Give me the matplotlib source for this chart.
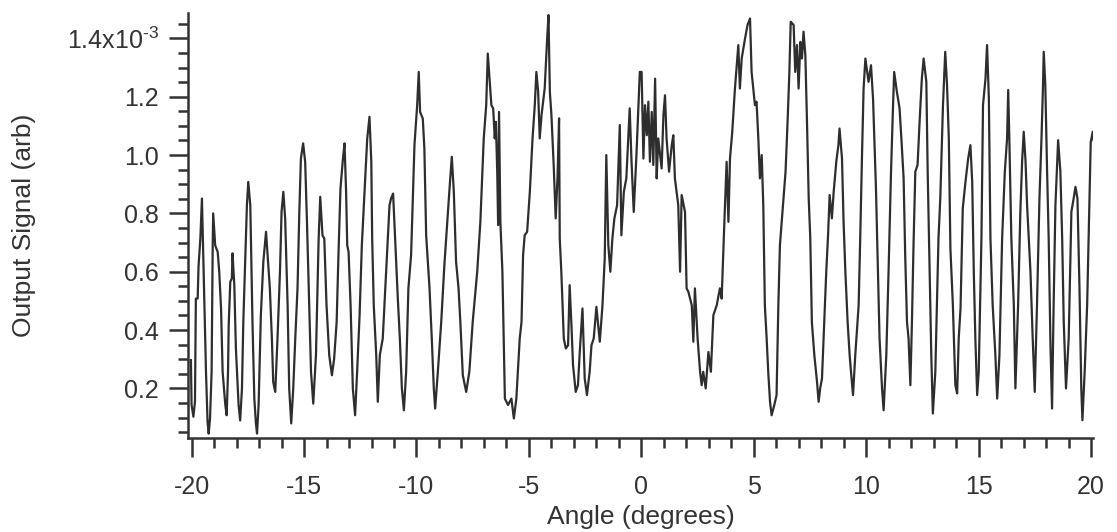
"""Output signal versus angle, redrawn from a scanned figure."""

import matplotlib

matplotlib.use("Agg")
import matplotlib.pyplot as plt
from matplotlib.ticker import FuncFormatter, MultipleLocator

# angle in degrees, signal in units of 1e-3 (arb)
angle_deg = [
    -20.03, -20.00, -19.92, -19.85, -19.81, -19.73, -19.69, -19.61, -19.54, -19.48,
    -19.44, -19.36, -19.29, -19.24, -19.18, -19.11, -19.06, -19.04, -18.95, -18.84,
    -18.77, -18.69, -18.62, -18.50, -18.44, -18.38, -18.35, -18.28, -18.21, -18.18,
    -18.10, -18.03, -17.91, -17.84, -17.76, -17.70, -17.61, -17.54, -17.48, -17.39,
    -17.29, -17.21, -17.14, -17.09, -17.02, -16.92, -16.81, -16.69, -16.62, -16.52,
    -16.43, -16.37, -16.28, -16.18, -16.07, -16.00, -15.92, -15.84, -15.73, -15.66,
    -15.57, -15.48, -15.39, -15.29, -15.21, -15.14, -15.04, -14.95, -14.87, -14.77,
    -14.69, -14.59, -14.47, -14.35, -14.28, -14.18, -14.10, -14.00, -13.88, -13.76,
    -13.66, -13.55, -13.47, -13.38, -13.27, -13.20, -13.13, -13.08, -13.02, -12.93,
    -12.83, -12.73, -12.64, -12.53, -12.43, -12.31, -12.19, -12.09, -12.01, -11.97,
    -11.90, -11.79, -11.72, -11.63, -11.50, -11.35, -11.20, -11.13, -11.04, -10.95,
    -10.83, -10.74, -10.65, -10.56, -10.46, -10.36, -10.24, -10.09, -9.97, -9.90,
    -9.84, -9.72, -9.65, -9.57, -9.42, -9.32, -9.23, -9.17, -9.05, -8.90,
    -8.76, -8.53, -8.43, -8.34, -8.24, -8.13, -8.05, -7.94, -7.79, -7.65,
    -7.50, -7.30, -7.16, -7.01, -6.90, -6.83, -6.67, -6.59, -6.52, -6.47,
    -6.41, -6.37, -6.33, -6.27, -6.18, -6.12, -6.07, -5.93, -5.78, -5.67,
    -5.56, -5.41, -5.33, -5.26, -5.19, -5.08, -4.96, -4.84, -4.74, -4.67,
    -4.59, -4.52, -4.44, -4.30, -4.19, -4.13, -4.07, -4.00, -3.90, -3.81,
    -3.73, -3.66, -3.63, -3.56, -3.45, -3.36, -3.26, -3.19, -3.11, -3.04,
    -2.92, -2.82, -2.74, -2.62, -2.52, -2.42, -2.30, -2.22, -2.12, -2.00,
    -1.85, -1.73, -1.63, -1.56, -1.47, -1.38, -1.29, -1.20, -1.08, -0.96,
    -0.89, -0.78, -0.67, -0.52, -0.44, -0.34, -0.22, -0.07, 0.01, 0.09,
    0.16, 0.24, 0.31, 0.38, 0.46, 0.53, 0.61, 0.68, 0.75, 0.90,
    0.98, 1.05, 1.12, 1.23, 1.35, 1.42, 1.49, 1.64, 1.72, 1.79,
    1.94, 2.01, 2.09, 2.24, 2.31, 2.38, 2.50, 2.61, 2.68, 2.75,
    2.86, 2.98, 3.09, 3.20, 3.35, 3.49, 3.57, 3.69, 3.79, 3.87,
    3.94, 4.04, 4.16, 4.31, 4.38, 4.46, 4.61, 4.72, 4.83, 4.90,
    5.05, 5.12, 5.20, 5.27, 5.35, 5.42, 5.49, 5.57, 5.64, 5.72,
    5.79, 5.91, 6.01, 6.09, 6.16, 6.31, 6.41, 6.50, 6.58, 6.64,
    6.77, 6.84, 6.92, 6.99, 7.07, 7.14, 7.21, 7.29, 7.36, 7.44,
    7.51, 7.58, 7.69, 7.81, 7.88, 7.95, 8.03, 8.10, 8.22, 8.30,
    8.37, 8.47, 8.55, 8.67, 8.76, 8.81, 8.92, 8.99, 9.07, 9.17,
    9.26, 9.32, 9.41, 9.51, 9.66, 9.73, 9.81, 9.88, 9.96, 10.10,
    10.21, 10.30, 10.36, 10.43, 10.52, 10.59, 10.70, 10.77, 10.89, 10.99,
    11.10, 11.19, 11.24, 11.36, 11.48, 11.56, 11.66, 11.73, 11.81, 11.88,
    11.96, 12.03, 12.10, 12.18, 12.28, 12.37, 12.47, 12.55, 12.67, 12.73,
    12.81, 12.89, 12.96, 13.07, 13.14, 13.21, 13.29, 13.41, 13.51, 13.59,
    13.67, 13.74, 13.85, 13.96, 14.04, 14.11, 14.19, 14.29, 14.41, 14.53,
    14.63, 14.71, 14.78, 14.85, 14.93, 15.00, 15.12, 15.19, 15.30, 15.37,
    15.45, 15.52, 15.62, 15.74, 15.82, 15.92, 16.04, 16.16, 16.26, 16.31,
    16.36, 16.45, 16.56, 16.63, 16.75, 16.85, 16.93, 17.00, 17.08, 17.15,
    17.30, 17.40, 17.49, 17.59, 17.70, 17.79, 17.85, 17.89, 17.96, 18.04,
    18.11, 18.19, 18.26, 18.33, 18.41, 18.53, 18.63, 18.71, 18.78, 18.88,
    19.00, 19.12, 19.22, 19.30, 19.39, 19.48, 19.56, 19.61, 19.71, 19.82,
    19.92, 19.98, 20.07, 20.11,
]
signal_milli = [
    0.297, 0.143, 0.103, 0.154, 0.508, 0.508, 0.620, 0.714, 0.851, 0.645,
    0.520, 0.257, 0.085, 0.045, 0.097, 0.257, 0.700, 0.800, 0.690, 0.668,
    0.600, 0.474, 0.257, 0.143, 0.108, 0.257, 0.417, 0.565, 0.577, 0.663,
    0.554, 0.337, 0.143, 0.090, 0.200, 0.428, 0.657, 0.828, 0.908, 0.828,
    0.417, 0.165, 0.080, 0.045, 0.143, 0.451, 0.634, 0.737, 0.657, 0.543,
    0.371, 0.222, 0.188, 0.371, 0.600, 0.805, 0.874, 0.783, 0.485, 0.200,
    0.080, 0.200, 0.371, 0.543, 0.805, 0.988, 1.040, 0.977, 0.771, 0.485,
    0.257, 0.148, 0.314, 0.714, 0.857, 0.725, 0.714, 0.485, 0.314, 0.245,
    0.303, 0.428, 0.657, 0.886, 0.988, 1.040, 0.874, 0.691, 0.668, 0.485,
    0.200, 0.108, 0.257, 0.451, 0.691, 0.874, 1.057, 1.131, 0.980, 0.714,
    0.485, 0.314, 0.154, 0.314, 0.371, 0.600, 0.828, 0.851, 0.868, 0.714,
    0.508, 0.371, 0.200, 0.125, 0.257, 0.543, 0.657, 1.034, 1.171, 1.285,
    1.148, 1.125, 1.023, 0.725, 0.543, 0.371, 0.200, 0.131, 0.257, 0.428,
    0.623, 0.886, 0.994, 0.874, 0.634, 0.543, 0.428, 0.245, 0.188, 0.257,
    0.428, 0.600, 0.771, 1.057, 1.171, 1.348, 1.171, 1.160, 1.057, 1.114,
    0.943, 0.760, 1.148, 0.771, 0.600, 0.371, 0.165, 0.143, 0.165, 0.097,
    0.165, 0.371, 0.428, 0.657, 0.725, 0.737, 0.874, 1.057, 1.171, 1.285,
    1.217, 1.057, 1.137, 1.228, 1.400, 1.480, 1.217, 1.137, 0.966, 0.783,
    0.920, 1.126, 0.714, 0.600, 0.371, 0.337, 0.348, 0.554, 0.417, 0.280,
    0.188, 0.211, 0.325, 0.474, 0.234, 0.177, 0.257, 0.348, 0.371, 0.480,
    0.360, 0.485, 0.645, 1.000, 0.691, 0.600, 0.714, 0.783, 0.828, 1.103,
    0.725, 0.874, 0.920, 1.160, 0.980, 0.805, 1.000, 1.285, 1.285, 0.988,
    1.171, 1.068, 1.183, 0.977, 1.148, 0.966, 1.262, 0.920, 1.057, 0.954,
    1.137, 1.205, 1.057, 0.943, 1.034, 1.068, 0.920, 0.828, 0.600, 0.863,
    0.805, 0.543, 0.531, 0.485, 0.360, 0.543, 0.371, 0.257, 0.211, 0.257,
    0.200, 0.325, 0.257, 0.451, 0.485, 0.543, 0.508, 0.771, 0.977, 0.771,
    0.988, 1.080, 1.228, 1.377, 1.228, 1.331, 1.400, 1.446, 1.468, 1.285,
    1.171, 1.183, 1.057, 0.920, 1.000, 0.828, 0.485, 0.371, 0.257, 0.154,
    0.108, 0.143, 0.177, 0.485, 0.691, 0.840, 0.943, 1.114, 1.285, 1.457,
    1.446, 1.285, 1.377, 1.228, 1.388, 1.331, 1.423, 1.343, 1.126, 0.851,
    0.714, 0.428, 0.314, 0.222, 0.154, 0.200, 0.234, 0.371, 0.600, 0.725,
    0.863, 0.783, 0.874, 0.980, 1.034, 1.091, 0.988, 0.771, 0.600, 0.428,
    0.314, 0.257, 0.177, 0.314, 0.485, 0.714, 1.000, 1.228, 1.331, 1.251,
    1.308, 1.194, 1.057, 0.886, 0.600, 0.371, 0.200, 0.125, 0.314, 0.600,
    0.943, 1.171, 1.285, 1.217, 1.160, 1.057, 0.920, 0.657, 0.428, 0.371,
    0.211, 0.428, 0.691, 0.943, 0.966, 1.114, 1.262, 1.331, 1.251, 0.943,
    0.634, 0.314, 0.114, 0.257, 0.485, 0.714, 0.851, 1.171, 1.354, 1.240,
    1.057, 0.680, 0.485, 0.211, 0.183, 0.371, 0.474, 0.817, 0.908, 0.988,
    1.034, 0.908, 0.600, 0.371, 0.177, 0.257, 0.714, 1.171, 1.262, 1.377,
    1.194, 0.714, 0.485, 0.314, 0.165, 0.314, 0.714, 0.943, 1.057, 1.223,
    1.057, 0.714, 0.485, 0.200, 0.485, 0.806, 0.980, 1.080, 0.980, 0.828,
    0.600, 0.371, 0.188, 0.485, 0.851, 1.057, 1.217, 1.354, 1.240, 0.943,
    0.714, 0.348, 0.131, 0.485, 0.828, 1.051, 0.943, 0.714, 0.428, 0.200,
    0.371, 0.806, 0.851, 0.891, 0.851, 0.543, 0.200, 0.091, 0.257, 0.485,
    0.828, 1.045, 1.080, 1.050,
]
x_major_ticks = [-20, -15, -10, -5, 0, 5, 10, 15, 20]
y_major_ticks = [0.2, 0.4, 0.6, 0.8, 1.0, 1.2, 1.4]

ink = "#333333"

plt.rcParams["font.family"] = ["Liberation Sans", "DejaVu Sans"]
plt.rcParams["mathtext.default"] = "regular"

fig = plt.figure(figsize=(11.17, 5.32), dpi=100)
ax = fig.add_axes([0.1683, 0.1767, 0.8102, 0.7983])

ax.plot(angle_deg, signal_milli, color="#2e2e2e", linewidth=1.6)

ax.set_xlim(-20.16, 20.08)
ax.set_ylim(0.03, 1.486)
ax.set_xticks(x_major_ticks)
ax.set_yticks(y_major_ticks)
ax.xaxis.set_minor_locator(MultipleLocator(1))
ax.yaxis.set_minor_locator(MultipleLocator(0.05))


def y_label(value, _pos):
    # only the top tick carries the 10^-3 multiplier, as in the original
    if abs(value - 1.4) < 1e-6:
        return "1.4x10$^{\u2010 3}$".replace(" ", "")
    return f"{value:.1f}"


ax.yaxis.set_major_formatter(FuncFormatter(y_label))
ax.set_xticklabels([str(t) for t in x_major_ticks])

ax.tick_params(axis="both", which="major", direction="out", length=14, width=1.8,
               color=ink, labelcolor=ink, labelsize=18)
ax.tick_params(axis="both", which="minor", direction="out", length=7.5, width=1.8,
               color=ink)
ax.tick_params(axis="x", which="major", pad=13)
ax.tick_params(axis="y", which="major", pad=7)

for side in ("top", "right"):
    ax.spines[side].set_visible(False)
for side in ("left", "bottom"):
    ax.spines[side].set_linewidth(1.8)
    ax.spines[side].set_color(ink)

ax.set_xlabel("Angle (degrees)", fontsize=19, color=ink, labelpad=4)
ax.set_ylabel("Output Signal (arb)", fontsize=19, color=ink, labelpad=22)

fig.savefig("out.png", dpi=100, facecolor="white")
